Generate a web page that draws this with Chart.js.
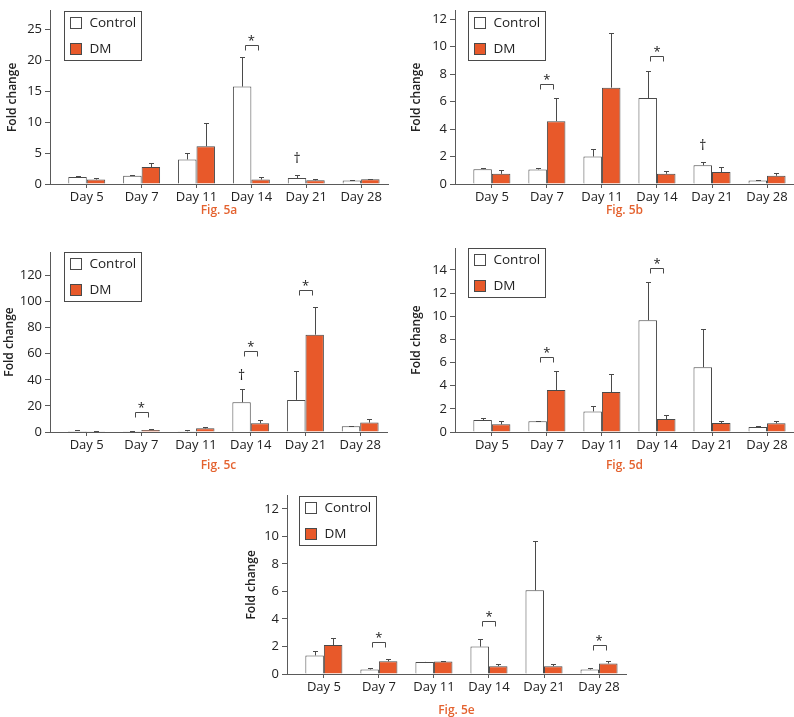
<!DOCTYPE html>
<html><head><meta charset="utf-8">
<script src="https://cdn.jsdelivr.net/npm/chart.js@4.4.0/dist/chart.umd.min.js"></script>
<style>
html,body{margin:0;padding:0;background:#fff;}
#wrap{position:relative;width:794px;height:717px;overflow:hidden;background:#fff;}
canvas{position:absolute;}
</style></head><body><div id="wrap"></div>
<script>
// ---------- data ----------
const days = ['Day 5', 'Day 7', 'Day 11', 'Day 14', 'Day 21', 'Day 28'];
const seriesNames = ['Control', 'DM'];

// Fig. 5a
const aControl      = [1.12, 1.33, 3.97, 15.75, 0.97, 0.56];
const aControlUpper = [1.30, 1.50, 5.05, 20.50, 1.50, 0.70];
const aDM           = [0.72, 2.75, 6.10, 0.72, 0.60, 0.76];
const aDMUpper      = [0.97, 3.40, 9.80, 1.10, 0.87, 0.87];
const aTicks = [0, 5, 10, 15, 20, 25];
const aMarks = [{day: 3, mark: '*', level: 22.5}, {day: 4, mark: '†', level: 4.05}];

// Fig. 5b
const bControl      = [1.08, 1.06, 2.00, 6.25, 1.36, 0.26];
const bControlUpper = [1.20, 1.20, 2.57, 8.23, 1.61, 0.28];
const bDM           = [0.74, 4.57, 7.01, 0.74, 0.87, 0.60];
const bDMUpper      = [1.03, 6.23, 11.0, 0.92, 1.26, 0.78];
const bTicks = [0, 2, 4, 6, 8, 10, 12];
const bMarks = [{day: 1, mark: '*', level: 7.24}, {day: 3, mark: '*', level: 9.29}, {day: 4, mark: '†', level: 2.76}];

// Fig. 5c
const cControl      = [0.77, 0.5, 0.5, 22.8, 24.6, 4.4];
const cControlUpper = [1.3, 1.0, 1.3, 33.1, 46.4, 4.9];
const cDM           = [0.26, 1.5, 2.8, 6.7, 74.6, 7.2];
const cDMUpper      = [0.4, 2.3, 3.6, 9.0, 95.9, 10.3];
const cTicks = [0, 20, 40, 60, 80, 100, 120];
const cMarks = [{day: 1, mark: '*', level: 15.6}, {day: 3, mark: '*', level: 61.8}, {day: 4, mark: '*', level: 108.5}, {day: 3, mark: '†', level: 43.2}];

// Fig. 5d
const dControl      = [1.03, 0.92, 1.78, 9.66, 5.60, 0.43];
const dControlUpper = [1.21, 0.98, 2.24, 12.93, 8.88, 0.55];
const dDM           = [0.66, 3.62, 3.45, 1.12, 0.78, 0.75];
const dDMUpper      = [0.92, 5.23, 5.00, 1.47, 0.92, 0.92];
const dTicks = [0, 2, 4, 6, 8, 10, 12, 14];
const dMarks = [{day: 1, mark: '*', level: 6.52}, {day: 3, mark: '*', level: 14.14}];

// Fig. 5e
const eControl      = [1.35, 0.33, 0.88, 1.99, 6.08, 0.33];
const eControlUpper = [1.66, 0.40, 0.90, 2.51, 9.70, 0.40];
const eDM           = [2.10, 0.92, 0.90, 0.57, 0.57, 0.76];
const eDMUpper      = [2.58, 1.11, 0.92, 0.71, 0.71, 0.92];
const eTicks = [0, 2, 4, 6, 8, 10, 12];
const eMarks = [{day: 1, mark: '*', level: 2.3}, {day: 3, mark: '*', level: 3.83}, {day: 5, mark: '*', level: 2.1}];

// ---------- layout / style ----------
const ORANGE = '#E8592A';
const AXIS = '#5a5a5a';
const FONT = "'Open Sans', 'Noto Sans', sans-serif";
Chart.defaults.font.family = FONT;
Chart.defaults.color = '#222';

const panels = [
  {fig: 'Fig. 5a', control: aControl, controlUp: aControlUpper, dm: aDM, dmUp: aDMUpper, ticks: aTicks, marks: aMarks, yMax: 28,
   box: {left: 0, top: 0, w: 397, h: 225}, area: {top: 1, bottom: 184, right: 388}, titlePad: 5, figY: 211, legX: 14},
  {fig: 'Fig. 5b', control: bControl, controlUp: bControlUpper, dm: bDM, dmUp: bDMUpper, ticks: bTicks, marks: bMarks, yMax: 12.6,
   box: {left: 405, top: 0, w: 389, h: 225}, area: {top: 1, bottom: 184, right: 389}, titlePad: 4.5, figY: 211, legX: 13},
  {fig: 'Fig. 5c', control: cControl, controlUp: cControlUpper, dm: cDM, dmUp: cDMUpper, ticks: cTicks, marks: cMarks, yMax: 138,
   box: {left: 0, top: 230, w: 397, h: 245}, area: {top: 22, bottom: 202, right: 387}, titlePad: 2.5, figY: 236, legX: 14},
  {fig: 'Fig. 5d', control: dControl, controlUp: dControlUpper, dm: dDM, dmUp: dDMUpper, ticks: dTicks, marks: dMarks, yMax: 15.9,
   box: {left: 405, top: 230, w: 389, h: 245}, area: {top: 18, bottom: 202, right: 389}, titlePad: 4.5, figY: 236, legX: 13},
  {fig: 'Fig. 5e', control: eControl, controlUp: eControlUpper, dm: eDM, dmUp: eDMUpper, ticks: eTicks, marks: eMarks, yMax: 12.95,
   box: {left: 237, top: 485, w: 397, h: 232}, area: {top: 7, bottom: 189, right: 389}, titlePad: 7.5, figY: 226, legX: 12}
];

const Y_AXIS_W = 50;

const decor = {
  id: 'decor',
  afterDatasetsDraw(chart, args, o) {
    const ctx = chart.ctx, ys = chart.scales.y, xs = chart.scales.x;
    ctx.save();
    ctx.strokeStyle = '#4a4a4a';
    ctx.lineWidth = 1;
    // error bars (upper only)
    chart.data.datasets.forEach((ds, i) => {
      const meta = chart.getDatasetMeta(i);
      ds.upper.forEach((u, j) => {
        const bar = meta.data[j];
        const bx = Math.round(bar.x) + 0.5;
        const yt = Math.round(ys.getPixelForValue(u)) + 0.5;
        ctx.beginPath();
        ctx.moveTo(bx, bar.y);
        ctx.lineTo(bx, yt);
        ctx.moveTo(bx - 2.5, yt);
        ctx.lineTo(bx + 2.5, yt);
        ctx.stroke();
      });
    });
    // significance marks
    const m0 = chart.getDatasetMeta(0);
    o.marks.forEach(m => {
      const yy = Math.round(ys.getPixelForValue(m.level)) + 0.5;
      if (m.mark === '*') {
        const cx = xs.getPixelForValue(m.day);
        const l = Math.round(cx - 6.5) + 0.5, r = Math.round(cx + 6.5) + 0.5;
        ctx.beginPath();
        ctx.moveTo(l, yy + 5); ctx.lineTo(l, yy); ctx.lineTo(r, yy); ctx.lineTo(r, yy + 5);
        ctx.stroke();
        ctx.fillStyle = '#222';
        ctx.font = '13px ' + FONT;
        ctx.textAlign = 'center';
        ctx.textBaseline = 'alphabetic';
        ctx.fillText('*', cx, yy - 0.5);
      } else {
        const cx = m0.data[m.day].x;
        ctx.fillStyle = '#222';
        ctx.font = '14px ' + FONT;
        ctx.textAlign = 'center';
        ctx.textBaseline = 'middle';
        ctx.fillText(m.mark, cx, yy);
      }
    });
    ctx.restore();
  },
  afterDraw(chart, args, o) {
    const ctx = chart.ctx, a = chart.chartArea;
    ctx.save();
    // legend box
    const bx = Math.round(a.left + o.legX) + 0.5, by = Math.round(a.top) + 0.5;
    ctx.strokeStyle = '#4a4a4a';
    ctx.lineWidth = 1;
    ctx.fillStyle = '#fff';
    ctx.fillRect(bx, by, 77, 49);
    ctx.strokeRect(bx, by, 77, 49);
    chart.data.datasets.forEach((ds, i) => {
      const cy = by + 12 + i * 26;
      ctx.fillStyle = ds.backgroundColor;
      ctx.fillRect(bx + 6, cy - 6, 11, 11);
      ctx.strokeRect(bx + 6, cy - 6, 11, 11);
      ctx.fillStyle = '#222';
      ctx.font = '13.5px ' + FONT;
      ctx.textAlign = 'left';
      ctx.textBaseline = 'middle';
      ctx.fillText(ds.label, bx + 25, cy);
    });
    // figure label
    ctx.fillStyle = '#E4622F';
    ctx.font = '600 12px ' + FONT;
    ctx.textAlign = 'center';
    ctx.textBaseline = 'middle';
    ctx.fillText(o.fig, (a.left + a.right) / 2, o.figY);
    ctx.restore();
  }
};

const wrap = document.getElementById('wrap');
panels.forEach(p => {
  const cv = document.createElement('canvas');
  cv.width = p.box.w; cv.height = p.box.h;
  cv.style.left = p.box.left + 'px'; cv.style.top = p.box.top + 'px';
  cv.style.width = p.box.w + 'px'; cv.style.height = p.box.h + 'px';
  wrap.appendChild(cv);
  const mk = (vals) => vals.map((v, i) => ({x: i, y: v}));
  new Chart(cv, {
    type: 'bar',
    data: {
      datasets: [
        {label: seriesNames[0], data: mk(p.control), upper: p.controlUp, backgroundColor: '#ffffff', borderColor: '#4a4a4a', borderWidth: 1},
        {label: seriesNames[1], data: mk(p.dm), upper: p.dmUp, backgroundColor: ORANGE, borderColor: '#4a4a4a', borderWidth: 1}
      ]
    },
    options: {
      responsive: false,
      animation: false,
      devicePixelRatio: 1,
      layout: {padding: {left: 0, top: p.area.top, right: p.box.w - p.area.right, bottom: 0}},
      categoryPercentage: 0.673,
      barPercentage: 1,
      plugins: {legend: {display: false}, tooltip: {enabled: false}, decor: {marks: p.marks, fig: p.fig, figY: p.figY, legX: p.legX}},
      scales: {
        x: {
          type: 'linear', min: -0.67, max: 5.49, offset: false,
          afterBuildTicks: s => { s.ticks = days.map((d, i) => ({value: i})); },
          afterFit: s => { s.height = p.box.h - p.area.bottom; },
          ticks: {callback: v => days[v] ?? '', font: {size: 13}, color: '#222', padding: 1, maxRotation: 0, autoSkip: false},
          grid: {offset: false, drawOnChartArea: false, drawTicks: true, tickLength: 4, color: AXIS},
          border: {display: true, color: AXIS, width: 1}
        },
        y: {
          min: 0, max: p.yMax,
          afterBuildTicks: s => { s.ticks = p.ticks.map(v => ({value: v})); },
          afterFit: s => { s.width = Y_AXIS_W; },
          ticks: {font: {size: 13}, color: '#222', padding: 3},
          grid: {drawOnChartArea: false, drawTicks: true, tickLength: 5, color: AXIS},
          border: {display: true, color: AXIS, width: 1},
          title: {display: true, text: 'Fold change', font: {size: 12, weight: '600'}, color: '#222', padding: {top: p.titlePad, bottom: 0}}
        }
      }
    },
    plugins: [decor]
  });
});
</script>
</body></html>
